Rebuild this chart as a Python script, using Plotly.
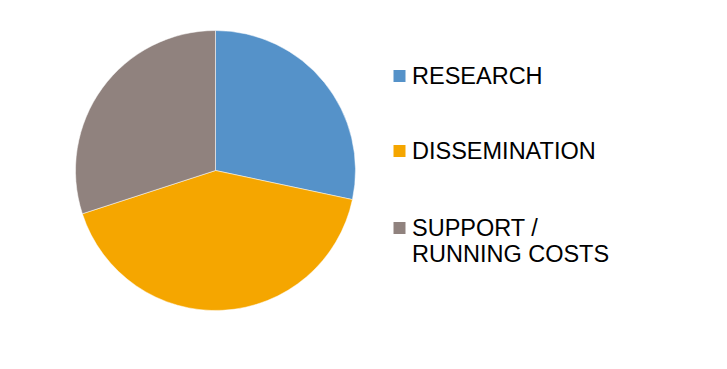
import plotly.graph_objects as go

labels = ["RESEARCH", "DISSEMINATION", "SUPPORT /<br>RUNNING COSTS"]
values = [85, 125, 90]
colors = ["#5592C9", "#F5A600", "#90827E"]

W, H = 727, 369
off = 8  # page body margin
cx, cy, r = 215.5 - off, 170.5 - off, 140

fig = go.Figure(go.Pie(
    labels=labels, values=values, sort=False, direction="clockwise", rotation=0,
    marker=dict(colors=colors, line=dict(color="white", width=0.5)),
    textinfo="none", hoverinfo="label+percent", showlegend=False,
    domain=dict(x=[(cx - r) / W, (cx + r) / W], y=[1 - (cy + r) / H, 1 - (cy - r) / H]),
))

# Legend drawn manually
legend_y = [76 - off, 151 - off, 228 - off]
line_gap = 25.7
sq = 12
for lab, col, ly in zip(labels, colors, legend_y):
    fig.add_shape(type="rect", xref="paper", yref="paper",
                  x0=(393.5 - off) / W, x1=(393.5 - off + sq) / W,
                  y0=1 - (ly + sq / 2) / H, y1=1 - (ly - sq / 2) / H,
                  fillcolor=col, line=dict(width=0))
    for i, part in enumerate(lab.split("<br>")):
        fig.add_annotation(xref="paper", yref="paper", x=(410 - off) / W, y=1 - (ly + i * line_gap) / H,
                           text=part, showarrow=False, xanchor="left", yanchor="middle",
                           font=dict(family="Liberation Sans, Arial", size=23.5, color="black"))

fig.update_layout(width=W, height=H, margin=dict(l=0, r=0, t=0, b=0),
                  paper_bgcolor="white", plot_bgcolor="white")
fig.write_html("out.html")
